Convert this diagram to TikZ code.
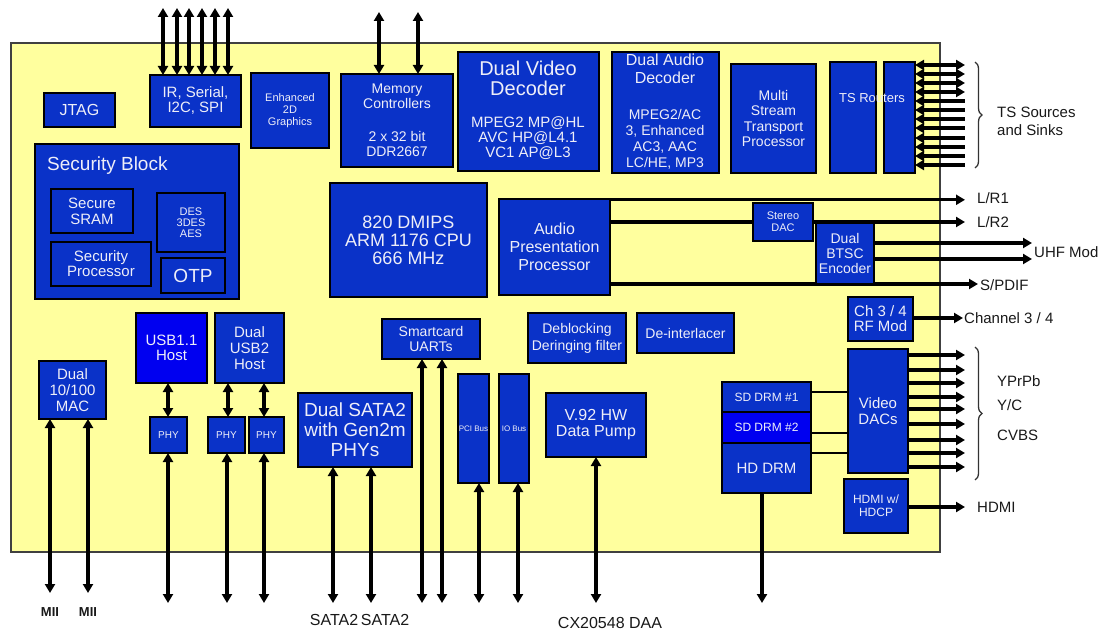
\documentclass[tikz,border=0pt]{standalone}
\usepackage{fontspec}
\setmainfont{Liberation Sans}
\usetikzlibrary{arrows.meta,decorations.pathreplacing}
\pgfdeclarelayer{back}\pgfdeclarelayer{mid}\pgfsetlayers{back,mid,main}
\definecolor{chipyel}{HTML}{FFFF9E}
\definecolor{blkblue}{HTML}{0A32C8}
\definecolor{brblue}{HTML}{0000F0}
\definecolor{txtw}{HTML}{EEEEF8}
\newcommand\fsz[2]{\fontsize{#1}{#2}\selectfont}
\newcommand\bx[7][]{\node[blk,minimum width={(#5-#3)*1pt},minimum height={(#6-#4)*1pt},#1] (#2) at ({(#3+#5)/2},{(#4+#6)/2}) {#7};}
\begin{document}
\begin{tikzpicture}[x=1pt,y=-1pt,
  blk/.style={draw=black,line width=1.8pt,fill=blkblue,text=txtw,align=center,inner sep=0pt,outer sep=0pt,font=\fsz{14}{15}},
  bright/.style={fill=brblue},
  txt/.style={text=txtw,align=center,inner sep=0pt},
  lab/.style={text=black!90,inner sep=0pt,anchor=west,font=\fsz{15}{18},align=left},
  >={Triangle[length=9pt,width=10pt]},
  bidir/.style={line width=3.4pt,<->},
  outarr/.style={line width=3.2pt,->},
  inarr/.style={line width=3.2pt,<-},
  plain/.style={line width=3.2pt},
  thinln/.style={line width=1.6pt}]
\useasboundingbox (0,0) rectangle (1108,636);
\begin{pgfonlayer}{back}
\fill[white] (0,0) rectangle (1108,636);
\draw[fill=chipyel,draw=black!75,line width=1.4pt] (11,43) rectangle (940,552);
\end{pgfonlayer}

% ---- blocks ----
\bx[font=\fsz{16}{16}]{jtag}{44}{93}{115}{127}{JTAG}
\bx[font=\fsz{15}{15}]{ir}{150}{75}{241}{127}{IR, Serial,\\I2C, SPI}
\bx[font=\fsz{11}{12}]{gfx}{251}{73}{329}{148}{Enhanced\\2D\\Graphics}
\bx{sec}{35}{144}{239}{299}{}
\node[txt,font=\fsz{19}{20},anchor=base west] (sectitle) at (47,171) {Security Block};
\bx[font=\fsz{15}{16}]{sram}{51}{189}{133}{233}{Secure\\SRAM}
\bx[font=\fsz{11}{11}]{des}{157}{193}{225}{252}{DES\\3DES\\AES}
\bx[font=\fsz{15}{15}]{sproc}{51}{242}{151}{286}{Security\\Processor}
\bx[font=\fsz{19}{19}]{otp}{161}{258}{225}{293}{OTP}
\bx[font=\fsz{14}{15}]{mem}{341}{74}{453}{167}{Memory\\Controllers\\[18pt]2 x 32 bit\\DDR2667}
\bx{dvd}{458}{52}{599}{171}{}
\node[txt,font=\fsz{20}{20}] (dvdt) at (528,78) {Dual Video\\Decoder};
\node[txt,font=\fsz{15}{15}] (dvdb) at (528,138) {MPEG2 MP@HL\\AVC HP@L4.1\\VC1 AP@L3};
\bx{dad}{612}{52}{719}{173}{}
\node[txt,font=\fsz{16}{18}] (dadt) at (665,69) {Dual Audio\\Decoder};
\node[txt,font=\fsz{14}{16}] (dadb) at (665,139) {MPEG2/AC\\3, Enhanced\\AC3, AAC\\LC/HE, MP3};
\bx[font=\fsz{14}{15.5}]{mstp}{731}{64}{816}{173}{Multi\\Stream\\Transport\\Processor}
\bx{tsr1}{830}{62}{876}{173}{}
\bx{tsr2}{884}{62}{915}{173}{}
\node[txt,font=\fsz{13}{14}] (tsrt) at (872,98) {TS Routers};
\bx[font=\fsz{18}{18}]{cpu}{330}{183}{487}{297}{820 DMIPS\\ARM 1176 CPU\\666 MHz}
\bx[font=\fsz{16}{18}]{app}{499}{199}{610}{295}{Audio\\Presentation\\Processor}
\bx[font=\fsz{11}{12}]{dac}{753}{203}{813}{241}{Stereo\\DAC}
\bx[font=\fsz{14}{15}]{btsc}{816}{223}{874}{284}{Dual\\BTSC\\Encoder}
\bx[font=\fsz{15}{15}]{rf}{848}{297}{913}{341}{Ch 3 / 4\\RF Mod}
\bx[font=\fsz{15}{16}]{vdac}{848}{349}{908}{473}{Video\\DACs}
\bx[font=\fsz{12}{12}]{sd1}{722}{382}{811}{412}{SD DRM \#1}
\bx[font=\fsz{12}{12},bright]{sd2}{722}{412}{811}{443}{SD DRM \#2}
\bx[font=\fsz{15}{15}]{hd}{722}{443}{811}{493}{HD DRM}
\bx[font=\fsz{12}{13}]{hdmi}{844}{479}{908}{533}{HDMI w/\\HDCP}
\bx[font=\fsz{15}{16}]{mac}{39}{361}{106}{419}{Dual\\10/100\\MAC}
\bx[font=\fsz{15}{15},bright]{usb1}{136}{313}{207}{383}{USB1.1\\Host}
\bx[font=\fsz{15}{16}]{usb2}{215}{313}{284}{383}{Dual\\USB2\\Host}
\bx[font=\fsz{10}{10}]{phy1}{150}{417}{187}{453}{PHY}
\bx[font=\fsz{10}{10}]{phy2}{208}{417}{245}{453}{PHY}
\bx[font=\fsz{10}{10}]{phy3}{249}{417}{284}{453}{PHY}
\bx[font=\fsz{19}{20}]{sata}{298}{393}{412}{467}{Dual SATA2\\with Gen2m\\PHYs}
\bx[font=\fsz{14}{15}]{smc}{382}{319}{480}{359}{Smartcard\\UARTs}
\bx[font=\fsz{8}{8}]{pci}{458}{374}{489}{483}{PCI Bus}
\bx[font=\fsz{8}{8}]{iobus}{499}{374}{529}{483}{IO Bus}
\bx[font=\fsz{16}{16}]{v92}{546}{393}{646}{457}{V.92 HW\\Data Pump}
\bx[font=\fsz{14}{17}]{deb}{528}{313}{626}{363}{Deblocking\\Deringing filter}
\bx[font=\fsz{14}{15}]{deint}{637}{313}{734}{353}{De-interlacer}

\begin{pgfonlayer}{mid}
% top
\foreach \xx in {163,177,189,202,215,228}
  \draw[bidir] (\xx,8) -- (ir.north -| \xx,0);
\foreach \xx in {379,418}
  \draw[bidir] (\xx,12) -- (mem.north -| \xx,0);
% TS lines
\foreach \yy/\st in {65/bidir,74/bidir,83/bidir,92/bidir,101/inarr,110/inarr,119/inarr,128/inarr,138/inarr,147/inarr,156/inarr,165/inarr}
  \draw[\st] (tsr2.east |- 0,\yy) -- (965,\yy);
% audio
\draw[outarr] (app.east |- 0,199.8) -- (965,199.8);
\draw[plain] (app.east |- 0,222) -- (dac.west |- 0,222);
\draw[outarr] (dac.east |- 0,222) -- (965,222);
\draw[outarr] (btsc.east |- 0,243) -- (1032,243);
\draw[outarr] (btsc.east |- 0,259) -- (1032,259);
\draw[outarr] (app.east |- 0,284) -- (978,284);
\draw[outarr] (rf.east |- 0,318) -- (963,318);
% video
\foreach \yy in {355,370,383,397,409,424,440,453,467}
  \draw[outarr] (vdac.east |- 0,\yy) -- (965,\yy);
\draw[outarr] (hdmi.east |- 0,507) -- (965,507);
\draw[thinln] (sd1.east |- 0,392) -- (vdac.west |- 0,392);
\draw[thinln] (sd2.east |- 0,433) -- (vdac.west |- 0,433);
\draw[thinln] (hd.east |- 0,453) -- (vdac.west |- 0,453);
\draw[outarr] (hd.south -| 762,0) -- (762,603);
% bottom
\draw[bidir] (v92.south -| 596,0) -- (596,603);
\draw[bidir] (pci.south -| 479,0) -- (479,603);
\draw[bidir] (iobus.south -| 518,0) -- (518,603);
\draw[bidir] (smc.south -| 422,0) -- (422,603);
\draw[bidir] (smc.south -| 442,0) -- (442,603);
\draw[bidir] (sata.south -| 333,0) -- (333,603);
\draw[bidir] (sata.south -| 371,0) -- (371,603);
\draw[bidir] (phy1.south -| 168,0) -- (168,603);
\draw[bidir] (phy2.south -| 227,0) -- (227,603);
\draw[bidir] (phy3.south -| 264,0) -- (264,603);
\draw[bidir] (usb1.south -| 168,0) -- (phy1.north -| 168,0);
\draw[bidir] (usb2.south -| 228,0) -- (phy2.north -| 228,0);
\draw[bidir] (usb2.south -| 264,0) -- (phy3.north -| 264,0);
\draw[bidir] (mac.south -| 50,0) -- (50,593);
\draw[bidir] (mac.south -| 88,0) -- (88,593);
% braces
\draw[line width=1.3pt,black!80,decorate,decoration={brace,amplitude=7pt}] (975,62) -- (975,168);
\draw[line width=1.3pt,black!80,decorate,decoration={brace,amplitude=7pt}] (975,347) -- (975,480);
\end{pgfonlayer}

% ---- labels ----
\node[lab] (lTS) at (997,121) {TS Sources\\and Sinks};
\node[lab] (lLR1) at (977,198) {L/R1};
\node[lab] (lLR2) at (977,222) {L/R2};
\node[lab] (lUHF) at (1034,252) {UHF Mod};
\node[lab] (lSP) at (980,285) {S/PDIF};
\node[lab] (lCH) at (964,318) {Channel 3 / 4};
\node[lab] (lY) at (997,381) {YPrPb};
\node[lab] (lYC) at (997,405) {Y/C};
\node[lab] (lCV) at (997,435) {CVBS};
\node[lab] (lHD) at (977,507) {HDMI};
\node[lab,anchor=center,font=\fsz{13}{14}\bfseries] (lM1) at (50,612) {MII};
\node[lab,anchor=center,font=\fsz{13}{14}\bfseries] (lM2) at (88,612) {MII};
\node[lab,anchor=center,font=\fsz{16}{18}] (lS1) at (334,620) {SATA2};
\node[lab,anchor=center,font=\fsz{16}{18}] (lS2) at (385,620) {SATA2};
\node[lab,anchor=center,font=\fsz{16}{18}] (lCX) at (610,623) {CX20548 DAA};
\end{tikzpicture}
\end{document}
